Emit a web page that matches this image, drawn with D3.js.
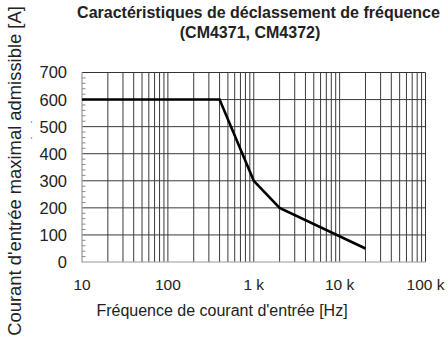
<!DOCTYPE html>
<html>
<head>
<meta charset="utf-8">
<script src="https://cdn.jsdelivr.net/npm/d3@7"></script>
<style>
  html, body { margin: 0; padding: 0; background: #fff; }
  svg { display: block; font-family: "Liberation Sans", Arial, sans-serif; }
</style>
</head>
<body>
<svg id="chart" width="448" height="343"></svg>
<script>
// Derating curve: frequency [Hz] vs max input current [A]
const frequencies = [10, 400, 1000, 2000, 20000];
const currents = [600, 600, 300, 200, 50];

const yTicks = [0, 100, 200, 300, 400, 500, 600, 700];
const xTicks = [10, 100, 1000, 10000, 100000];
const xTickLabels = ["10", "100", "1 k", "10 k", "100 k"];

const titleLines = ["Caractéristiques de déclassement de fréquence", "(CM4371, CM4372)"];
const xTitle = "Fréquence de courant d'entrée [Hz]";
const yTitle = "Courant d'entrée maximal admissible [A]";

const svg = d3.select("#chart");
const m = { left: 82, right: 425.5, top: 72.5, bottom: 262 };

const x = d3.scaleLog().domain([10, 100000]).range([m.left, m.right]);
const y = d3.scaleLinear().domain([0, 700]).range([m.bottom, m.top]);

// vertical grid: every 1..9 multiple of each decade
const vGrid = [];
for (let d = 10; d < 100000; d *= 10) {
  for (let k = 1; k < 10; k++) vGrid.push(d * k);
}
vGrid.push(100000);

const g = svg.append("g");

g.selectAll("line.vg").data(vGrid.filter(v => v > 10 && v < 100000)).join("line")
  .attr("x1", d => x(d)).attr("x2", d => x(d))
  .attr("y1", m.top).attr("y2", m.bottom)
  .attr("stroke", "#3a3a3a").attr("stroke-width", 1);

g.selectAll("line.hg").data(yTicks.filter(v => v > 0 && v < 700)).join("line")
  .attr("x1", m.left).attr("x2", m.right)
  .attr("y1", d => y(d)).attr("y2", d => y(d))
  .attr("stroke", "#3a3a3a").attr("stroke-width", 1);

// frame: top and right dark, left and bottom grey
g.append("line").attr("x1", m.left).attr("x2", m.right).attr("y1", m.top).attr("y2", m.top)
  .attr("stroke", "#333").attr("stroke-width", 1);
g.append("line").attr("x1", m.right).attr("x2", m.right).attr("y1", m.top).attr("y2", m.bottom)
  .attr("stroke", "#333").attr("stroke-width", 1);
g.append("line").attr("x1", m.left).attr("x2", m.left).attr("y1", m.top).attr("y2", m.bottom + 0.5)
  .attr("stroke", "#999").attr("stroke-width", 1.2);
g.append("line").attr("x1", m.left).attr("x2", m.right).attr("y1", m.bottom).attr("y2", m.bottom)
  .attr("stroke", "#999").attr("stroke-width", 1.2);

// minor y ticks every 20 A, drawn inward
const minorY = d3.range(20, 700, 20).filter(v => v % 100 !== 0);
g.selectAll("line.my").data(minorY).join("line")
  .attr("x1", m.left).attr("x2", m.left + 3.5)
  .attr("y1", d => y(d)).attr("y2", d => y(d))
  .attr("stroke", "#888").attr("stroke-width", 1);

// curve
const line = d3.line().x((d, i) => x(frequencies[i])).y(d => y(d));
g.append("path").datum(currents)
  .attr("d", line)
  .attr("fill", "none").attr("stroke", "#000")
  .attr("stroke-width", 2.6).attr("stroke-linejoin", "miter");

// axis labels
g.selectAll("text.yt").data(yTicks).join("text")
  .attr("x", 67).attr("y", d => y(d)).attr("dy", "0.36em")
  .attr("text-anchor", "end").attr("font-size", 16.5).attr("fill", "#222")
  .text(d => d);

g.selectAll("text.xt").data(xTicks).join("text")
  .attr("x", d => x(d)).attr("y", 290)
  .attr("text-anchor", "middle").attr("font-size", 15.5).attr("fill", "#222")
  .text((d, i) => xTickLabels[i]);

svg.append("text").attr("x", 222).attr("y", 316)
  .attr("text-anchor", "middle").attr("font-size", 16).attr("fill", "#222")
  .text(xTitle);

svg.append("text").attr("transform", "translate(20.5,171) rotate(-90)")
  .attr("text-anchor", "middle").attr("font-size", 18.4).attr("fill", "#222")
  .text(yTitle);

// small stray hyphen marks beside the axis title
[122, 138].forEach(cy => {
  svg.append("text").attr("transform", `translate(34,${cy}) rotate(-90)`)
    .attr("text-anchor", "middle").attr("font-size", 9).attr("fill", "#777")
    .text("-");
});

// title
svg.append("text").attr("x", 258.5).attr("y", 18)
  .attr("text-anchor", "middle").attr("font-size", 16).attr("font-weight", "bold").attr("fill", "#222")
  .text(titleLines[0]);
svg.append("text").attr("x", 250).attr("y", 38)
  .attr("text-anchor", "middle").attr("font-size", 16).attr("font-weight", "bold").attr("fill", "#222")
  .text(titleLines[1]);
</script>
</body>
</html>
